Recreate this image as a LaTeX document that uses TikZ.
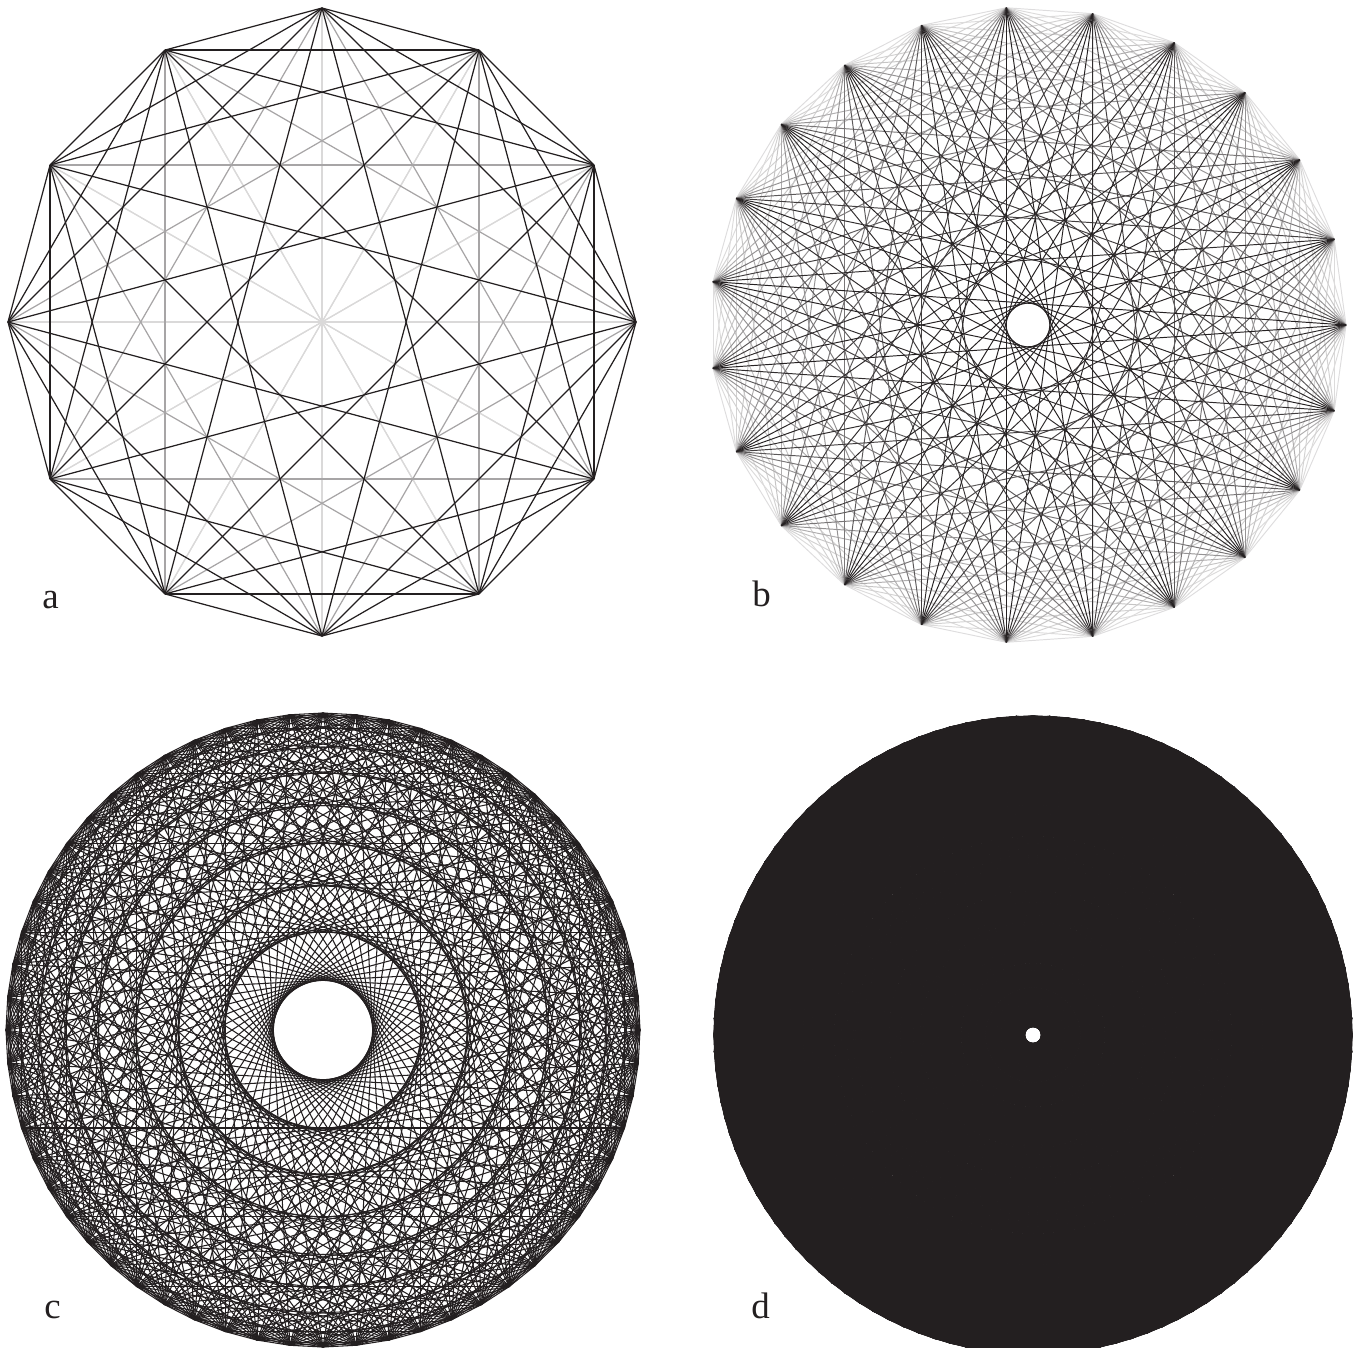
\documentclass[tikz,border=0pt]{standalone}
\usepackage{fontspec}
\setmainfont{Liberation Serif}
\definecolor{inkblack}{HTML}{231F20}
\tikzset{
  chord/.style={draw=inkblack,line width=0.7pt},
  chordgray/.style={chord,draw=inkblack!40},
  chordlight/.style={chord,draw=inkblack!17},
  finechord/.style={draw=inkblack,line width=0.55pt},
  hairchord/.style={draw=inkblack,line width=0.6pt},
  densechord/.style={draw=inkblack,line width=0.6pt},
  panellabel/.style={anchor=base west,inner sep=0pt,text=inkblack,font=\fontsize{21}{25}\selectfont},
}

\begin{document}
\begin{tikzpicture}[x=0.02cm,y=-0.02cm]
  \useasboundingbox (0,0) rectangle (1354,1347);
  \begin{scope}[shift={(322,322)}]
    \foreach \i in {0,...,11}{\coordinate (a-\i) at (\i*30:314);}
    \foreach \k/\s in {6/chordlight,4/chordgray,1/chord,2/chord,3/chord,5/chord}
      \foreach \i in {0,...,11}{
        \pgfmathtruncatemacro\j{mod(\i+\k,12)}
        \draw[\s] (a-\i) -- (a-\j);}
  \end{scope}
  \begin{scope}[shift={(1028,325)}]
    \foreach \i in {0,...,22}{\coordinate (b-\i) at (15.65217*\i:318);}
    \foreach \k in {1,...,11}{
      \pgfmathtruncatemacro\g{15+85*(sin(7.82609*\k))^3}
      \foreach \i in {0,...,22}{
        \pgfmathtruncatemacro\j{mod(\i+\k,23)}
        \draw[finechord,draw=inkblack!\g] (b-\i) -- (b-\j);}}
  \end{scope}
  \begin{scope}[shift={(323,1030)}]
    \foreach \i in {0,...,59}{\coordinate (c-\i) at (\i*6:317);}
    \foreach \k in {1,3,6,...,27}
      \foreach \i in {0,...,59}{
        \pgfmathtruncatemacro\j{mod(\i+\k,60)}
        \draw[hairchord] (c-\i) -- (c-\j);}
  \end{scope}
  \begin{scope}[shift={(1033,1035)}]
    \foreach \i in {0,...,119}{\coordinate (d-\i) at (\i*3:319);}
    \foreach \k in {1,...,59}
      \foreach \i in {0,...,119}{
        \pgfmathtruncatemacro\j{mod(\i+\k,120)}
        \draw[densechord] (d-\i) -- (d-\j);}
  \end{scope}
  \node[panellabel] (la) at (42,608) {a};
  \node[panellabel] (lb) at (752,606) {b};
  \node[panellabel] (lc) at (44,1318) {c};
  \node[panellabel] (ld) at (751,1318) {d};
\end{tikzpicture}
\end{document}
